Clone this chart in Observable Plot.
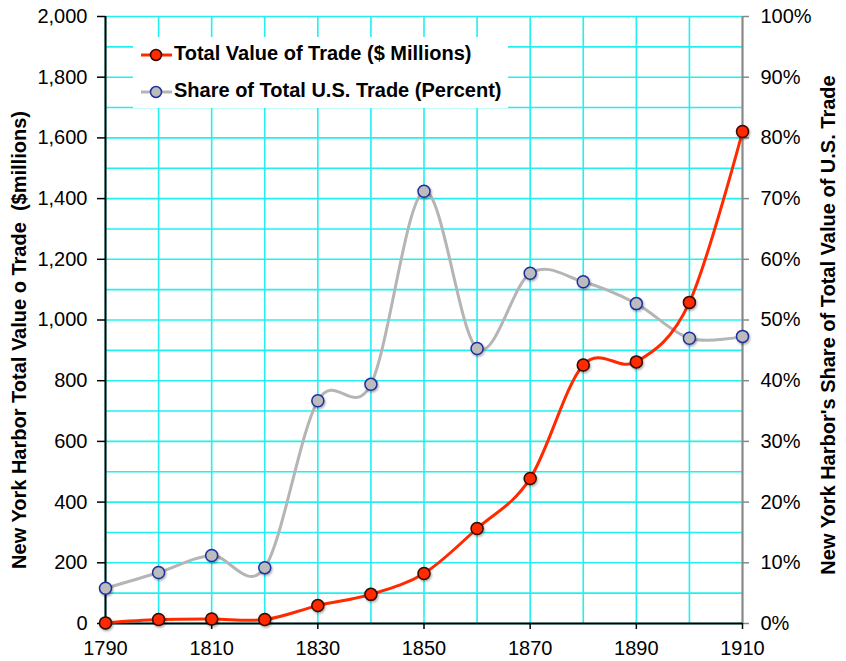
<!DOCTYPE html>
<html><head><meta charset="utf-8">
<script src="https://cdn.jsdelivr.net/npm/d3@7"></script>
<script src="https://cdn.jsdelivr.net/npm/@observablehq/plot@0.6"></script>
<style>body{margin:0;background:#fff;}</style>
</head><body><div id="chart"></div>
<script>
const years = [1790, 1800, 1810, 1820, 1830, 1840, 1850, 1860, 1870, 1880, 1890, 1900, 1910];
const totalValue = [2, 13, 15, 13, 59, 96, 165, 313, 478, 852, 862, 1058, 1621];
const sharePct = [5.8, 8.4, 11.2, 9.2, 36.7, 39.4, 71.2, 45.3, 57.7, 56.3, 52.7, 47.0, 47.3];
const leftTicks = [0, 200, 400, 600, 800, 1000, 1200, 1400, 1600, 1800, 2000];
const xTicks = [1790, 1810, 1830, 1850, 1870, 1890, 1910];
const seriesNames = ["Total Value of Trade ($ Millions)", "Share of Total U.S. Trade (Percent)"];
const leftTitle = "New York Harbor Total Value o Trade  ($millions)";
const rightTitle = "New York Harbor's Share of Total Value of U.S. Trade";

const valueData = years.map((year, i) => ({year, v: totalValue[i]}));
const shareData = years.map((year, i) => ({year, v: sharePct[i] * 20}));

const font = "'Liberation Sans', Arial, Helvetica, sans-serif";
const plot = Plot.plot({
  width: 846, height: 661,
  marginLeft: 105, marginRight: 104, marginTop: 16, marginBottom: 38,
  style: {fontFamily: font, fontSize: "20px", background: "#fff", color: "#000"},
  x: {domain: [1790, 1910]},
  y: {domain: [0, 2000]},
  marks: [
    Plot.gridY(d3.range(0, 2001, 100), {stroke: "#22f0f0", strokeOpacity: 1, strokeWidth: 1.6}),
    Plot.gridX(years, {stroke: "#22f0f0", strokeOpacity: 1, strokeWidth: 1.6}),
    Plot.axisY(leftTicks, {anchor: "left", tickFormat: d3.format(","), tickSize: 8, tickPadding: 10, label: null, strokeWidth: 1.5}),
    Plot.axisY(leftTicks, {anchor: "right", tickFormat: d => d / 20 + "%", tickSize: 6, tickPadding: 12, label: null, stroke: "#888", strokeWidth: 1.5}),
    Plot.axisX(xTicks, {anchor: "bottom", tickFormat: d => String(d), tickSize: 6, tickPadding: 11, label: null, strokeWidth: 1.5}),
    Plot.ruleX([1910], {stroke: "#888", strokeWidth: 2}),
    Plot.ruleX([1790], {stroke: "#000", strokeWidth: 2}),
    Plot.ruleY([0], {stroke: "#000", strokeWidth: 2}),
    Plot.line(shareData, {x: "year", y: "v", curve: "cardinal", stroke: "#b5b5b5", strokeWidth: 3}),
    Plot.line(valueData, {x: "year", y: "v", curve: "cardinal", stroke: "#ff2a00", strokeWidth: 3}),
    Plot.dot(shareData, {x: "year", y: "v", r: 6, fill: "#bcbcbc", stroke: "#1f2f9f", strokeWidth: 1.5}),
    Plot.dot(valueData, {x: "year", y: "v", r: 6, fill: "#ff2a00", stroke: "#300800", strokeWidth: 1.5})
  ]
});
document.getElementById("chart").appendChild(plot);

const svg = d3.select(plot);
const defs = svg.append("defs");
defs.append("filter").attr("id", "sh").attr("x", "-50%").attr("y", "-50%").attr("width", "200%").attr("height", "200%")
  .append("feDropShadow").attr("dx", 1).attr("dy", 1.5).attr("stdDeviation", 1).attr("flood-opacity", 0.35);
svg.selectAll("circle").attr("filter", "url(#sh)");

// axis titles
svg.append("text").attr("transform", "translate(21,340) rotate(-90)")
  .attr("text-anchor", "middle").attr("dominant-baseline", "middle")
  .style("font", `bold 20px ${font}`).style("white-space", "pre").attr("fill", "#000").text(leftTitle);
svg.append("text").attr("transform", "translate(830,325) rotate(-90)")
  .attr("text-anchor", "middle").attr("dominant-baseline", "middle")
  .style("font", `bold 20px ${font}`).attr("fill", "#000").text(rightTitle);

// legend
const lg = svg.append("g");
lg.append("rect").attr("x", 133).attr("y", 37).attr("width", 375).attr("height", 71).attr("fill", "#fff");
const styles = [
  {line: "#ff2a00", fill: "#ff2a00", stroke: "#300800"},
  {line: "#b5b5b5", fill: "#bcbcbc", stroke: "#1f2f9f"}
];
seriesNames.forEach((name, i) => {
  const cy = 55 + i * 37;
  const g = lg.append("g");
  g.append("line").attr("x1", 141).attr("x2", 172).attr("y1", cy).attr("y2", cy)
    .attr("stroke", styles[i].line).attr("stroke-width", 3);
  g.append("circle").attr("cx", 156).attr("cy", cy).attr("r", 5.5)
    .attr("fill", styles[i].fill).attr("stroke", styles[i].stroke).attr("stroke-width", 1.5);
  g.append("text").attr("x", 174).attr("y", cy).attr("text-anchor", "start").attr("dominant-baseline", "middle")
    .style("font", `bold 20px ${font}`).attr("fill", "#000").text(name);
});
</script>
</body></html>
